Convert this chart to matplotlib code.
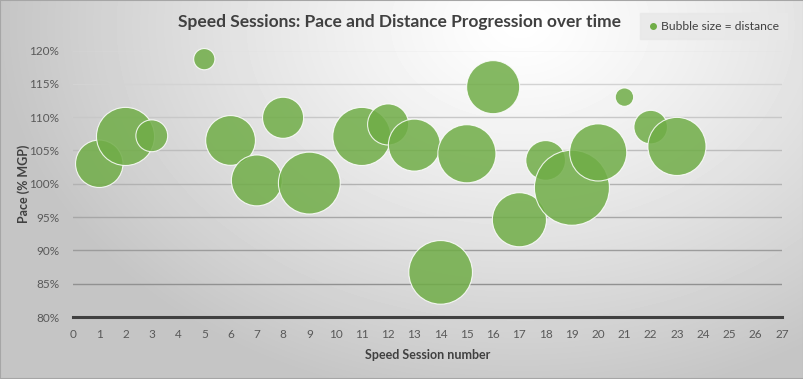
import numpy as np
import matplotlib.pyplot as plt
from matplotlib.ticker import FuncFormatter, MultipleLocator

plt.rcParams["font.family"] = ["Lato", "DejaVu Sans"]

# session number, pace (% of MGP) and distance (km) for each speed session
session = [1, 2, 3, 5, 6, 7, 8, 9, 11, 12, 13, 14, 15, 16, 17, 18, 19, 20, 21, 22, 23]
pace = [103.0, 107.1, 107.2, 118.7, 106.5, 100.5, 109.9, 100.1, 107.1, 108.9, 105.8,
        86.7, 104.5, 114.5, 94.6, 103.5, 99.4, 104.7, 113.0, 108.5, 105.6]
distance = [2.0, 3.0, 0.9, 0.4, 2.2, 2.3, 1.5, 3.4, 3.0, 1.5, 2.4,
            3.6, 3.0, 2.5, 2.6, 1.4, 5.0, 2.9, 0.3, 1.0, 3.0]

W, H = 804, 379
fig = plt.figure(figsize=(W / 100, H / 100), dpi=100)

# radial grey gradient behind everything
bg = fig.add_axes([0, 0, 1, 1], zorder=-10)
yy, xx = np.mgrid[0:H, 0:W]
d = np.sqrt(((xx - 520) / 520.0) ** 2 + ((yy - 25) / 380.0) ** 2)
shade = 255 - 58 * np.clip(d, 0, 1) ** 1.2
bg.imshow(shade, cmap="gray", vmin=0, vmax=255, aspect="auto",
          extent=[0, 1, 0, 1], origin="upper")
bg.set_axis_off()

ax = fig.add_axes([73 / W, 1 - 317 / H, 709 / W, 266.5 / H])
ax.patch.set_alpha(0)

# gridlines get darker towards the bottom, like the original
levels = [85, 90, 95, 100, 105, 110, 115, 120]
for lv in levels:
    g = 0.87 - (120 - lv) / 35 * 0.30
    ax.axhline(lv, color=(g, g, g), lw=1.0, zorder=0)

ax.scatter(session, pace, s=[583 * v for v in distance], color="#70AD47",
           alpha=0.85, edgecolors=(1, 1, 1, 0.6), linewidths=0.8, zorder=3,
           clip_on=False)

ax.set_xlim(0, 27)
ax.set_ylim(80, 120)
ax.xaxis.set_major_locator(MultipleLocator(1))
ax.yaxis.set_major_locator(MultipleLocator(5))
ax.yaxis.set_major_formatter(FuncFormatter(lambda v, p: f"{v:.0f}%"))
for s in ["top", "right", "left"]:
    ax.spines[s].set_visible(False)
ax.spines["bottom"].set_color("#404040")
ax.spines["bottom"].set_linewidth(2.2)
ax.tick_params(length=0, labelsize=8.5, colors="#595959")
ax.tick_params(axis="x", pad=9)
ax.tick_params(axis="y", pad=10)

ax.set_xlabel("Speed Session number", fontsize=9, fontweight="bold",
              color="#404040", labelpad=6)
ax.set_ylabel("Pace (% MGP)", fontsize=9, fontweight="bold",
              color="#404040", labelpad=-1)

fig.text(400 / W, 1 - 22 / H, "Speed Sessions: Pace and Distance Progression over time",
         ha="center", va="center", fontsize=12.5, fontweight="bold", color="#404040")

# legend box
fig.patches.append(plt.Rectangle((640 / W, 1 - 39 / H), 147 / W, 26 / H,
                                 transform=fig.transFigure, color="#e8e8e8",
                                 alpha=0.8, zorder=5))
fig.add_artist(plt.Line2D([653 / W], [1 - 26 / H], marker="o", markersize=4,
                          color="#70AD47", transform=fig.transFigure, zorder=6))
fig.text(661 / W, 1 - 26 / H, "Bubble size = distance", ha="left", va="center",
         fontsize=8.7, color="#404040", zorder=6)

# thin frame around the chart
fig.patches.append(plt.Rectangle((0, 0), 1, 1, transform=fig.transFigure,
                                 fill=False, edgecolor="#a6a6a6", lw=1.5, zorder=7))

fig.savefig("out.png", dpi=100)
